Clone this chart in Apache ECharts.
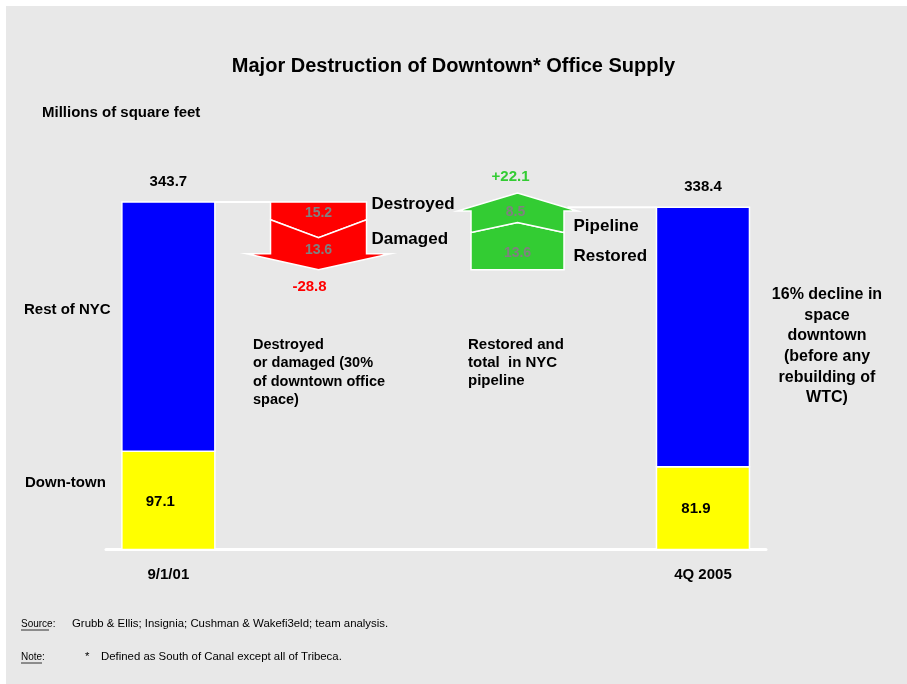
<!DOCTYPE html>
<html>
<head>
<meta charset="utf-8">
<script src="https://cdn.jsdelivr.net/npm/echarts@6/dist/echarts.min.js"></script>
<style>
html, body { margin: 0; padding: 0; background: #fff; }
#main { width: 907px; height: 684px; }
</style>
</head>
<body>
<div id="main"></div>
<script>
var periods = ['9/1/01', '4Q 2005'];
var totals = [343.7, 338.4];
var downtown = [97.1, 81.9];
var lossNames = ['Destroyed', 'Damaged'];
var losses = [15.2, 13.6];
var lossTotal = '-28.8';
var gainNames = ['Restored', 'Pipeline'];
var gains = [13.6, 8.5];
var gainTotal = '+22.1';

// layout: slot centres on the hidden x axis (0..100)
var slot = { before: 9.45, loss: 32.2, gain: 62.35, after: 90.45 };
var periodX = [slot.before, slot.after];
var barW = 93;
var stretch = { loss: 2.33, gain: 3.44 };   // arrows are drawn taller than the bar scale
var font = '"Liberation Sans", Arial, sans-serif';

var lossSum = losses[0] + losses[1];
var lossEnd = totals[0] - lossSum * stretch.loss;

var chart = echarts.init(document.getElementById('main'));

function label(t, x, y, color, size, align) {
    return { type: 'text', z2: 20, style: { text: t, x: x, y: y, fill: color, font: 'bold ' + size + 'px ' + font, align: align || 'center', verticalAlign: 'middle' } };
}

// stacked bar segment: value(0)=x, value(1)=from, value(2)=to
function barRenderer(color, labelFn) {
    return function (params, api) {
        var p0 = api.coord([api.value(0), api.value(1)]);
        var p1 = api.coord([api.value(0), api.value(2)]);
        var children = [{
            type: 'rect',
            shape: { x: p0[0] - barW / 2, y: p1[1], width: barW, height: p0[1] - p1[1] },
            style: { fill: color, stroke: '#fff', lineWidth: 1.5 }
        }];
        var l = labelFn(params.dataIndex, p0, p1);
        if (l) children.push(l);
        return { type: 'group', children: children };
    };
}

function renderLoss(params, api) {
    var top = api.coord([api.value(0), api.value(1)]);
    var unit = api.size([0, 1])[1];
    var cx = top[0], y0 = top[1];
    var s1 = api.value(2) * unit * stretch.loss;
    var s2 = api.value(3) * unit * stretch.loss;
    var yt = y0 + s1 + s2;
    var bw = 48, hw = 72, hl = 16, dip = 18;
    var yb = yt - hl;
    var barEdge = api.coord([slot.before, 0])[0] + barW / 2;
    var st = { fill: '#ff0000', stroke: '#fff', lineWidth: 1.5 };
    return {
        type: 'group',
        children: [
            { type: 'line', shape: { x1: barEdge, y1: y0, x2: cx - bw, y2: y0 }, style: { stroke: '#fff', lineWidth: 2 } },
            { type: 'polygon', shape: { points: [[cx - bw, y0], [cx + bw, y0], [cx + bw, y0 + s1 - dip], [cx, y0 + s1], [cx - bw, y0 + s1 - dip]] }, style: st },
            { type: 'polygon', shape: { points: [[cx - bw, y0 + s1 - dip], [cx, y0 + s1], [cx + bw, y0 + s1 - dip], [cx + bw, yb], [cx + hw, yb], [cx, yt], [cx - hw, yb], [cx - bw, yb]] }, style: st },
            label(String(api.value(2)), cx, y0 + 11, '#808080', 14),
            label(String(api.value(3)), cx, y0 + s1 + 12, '#808080', 14),
            label(lossNames[0], cx + 53, y0 + 2, '#000', 17, 'left'),
            label(lossNames[1], cx + 53, y0 + s1 + 2, '#000', 17, 'left'),
            label(lossTotal, cx - 9, yt + 17, '#ff0000', 15)
        ]
    };
}

function renderGain(params, api) {
    var base = api.coord([api.value(0), api.value(1)]);
    var unit = api.size([0, 1])[1];
    var cx = base[0], y0 = base[1];
    var s1 = api.value(2) * unit * stretch.gain;
    var s2 = api.value(3) * unit * stretch.gain;
    var yt = y0 - s1 - s2;
    var bw = 46.5, hw = 60, hl = 18, rise = 10;
    var yb = yt + hl;
    var barEdge = api.coord([slot.after, 0])[0] - barW / 2;
    var yEnd = api.coord([slot.after, totals[1]])[1];
    var st = { fill: '#33cc33', stroke: '#fff', lineWidth: 1.5 };
    return {
        type: 'group',
        children: [
            { type: 'line', shape: { x1: cx + 50, y1: yEnd, x2: barEdge, y2: yEnd }, style: { stroke: '#fff', lineWidth: 2 } },
            { type: 'polygon', shape: { points: [[cx - bw, y0], [cx + bw, y0], [cx + bw, y0 - s1 + rise], [cx, y0 - s1], [cx - bw, y0 - s1 + rise]] }, style: st },
            { type: 'polygon', shape: { points: [[cx - bw, y0 - s1 + rise], [cx, y0 - s1], [cx + bw, y0 - s1 + rise], [cx + bw, yb], [cx + hw, yb], [cx, yt], [cx - hw, yb], [cx - bw, yb]] }, style: st },
            label(String(api.value(2)), cx, y0 - 17, '#808080', 14),
            label(String(api.value(3)), cx - 2, yb + 1, '#808080', 14),
            label(gainNames[0], cx + 56, y0 - 13, '#000', 17, 'left'),
            label(gainNames[1], cx + 56, y0 - s1 + 4, '#000', 17, 'left'),
            label(gainTotal, cx - 7, yt - 16, '#33cc33', 15)
        ]
    };
}

function text(t, x, y, size, opts) {
    opts = opts || {};
    return {
        type: 'text', x: x, y: y, z: 10,
        style: {
            text: t, fill: opts.color || '#000',
            font: (opts.normal ? '' : 'bold ') + size + 'px ' + font,
            align: opts.align || 'left', verticalAlign: opts.va || 'middle',
            lineHeight: opts.lh
        }
    };
}

var option = {
    backgroundColor: '#fff',
    animation: false,
    title: {
        text: 'Major Destruction of Downtown* Office Supply',
        left: 'center', top: 56, padding: 0,
        textStyle: { fontFamily: font, fontWeight: 'bold', fontSize: 20, color: '#000' }
    },
    grid: { left: 106, right: 141, top: 145, bottom: 134.5 },
    xAxis: {
        type: 'value', min: 0, max: 100,
        axisLine: { show: true, onZero: false, lineStyle: { color: '#fff', width: 3 } },
        axisTick: { show: false },
        splitLine: { show: false },
        axisLabel: {
            customValues: periodX,
            formatter: function (v) { return periods[periodX.indexOf(v)]; },
            margin: 18, color: '#000', fontWeight: 'bold', fontSize: 15, fontFamily: font
        }
    },
    yAxis: { type: 'value', min: 0, max: 400, show: false },
    series: [
        {
            name: 'Down-town', type: 'custom', encode: { x: 0, y: [1, 2] }, z: 3,
            renderItem: barRenderer('#ffff00', function (i, p0, p1) {
                return label(downtown[i].toFixed(1), p0[0] - (i === 0 ? 8 : 7), (p0[1] + p1[1]) / 2 + 1, '#000', 15);
            }),
            data: downtown.map(function (v, i) { return [periodX[i], 0, v]; })
        },
        {
            name: 'Rest of NYC', type: 'custom', encode: { x: 0, y: [1, 2] }, z: 3,
            renderItem: barRenderer('#0000ff', function (i, p0, p1) {
                return label(totals[i].toFixed(1), p1[0], p1[1] - 20.5, '#000', 15);
            }),
            data: totals.map(function (t, i) { return [periodX[i], downtown[i], t]; })
        },
        {
            name: 'Loss', type: 'custom', renderItem: renderLoss, encode: { x: 0, y: 1 }, z: 2,
            data: [[slot.loss, totals[0], losses[0], losses[1]]]
        },
        {
            name: 'Gain', type: 'custom', renderItem: renderGain, encode: { x: 0, y: 1 }, z: 2,
            data: [[slot.gain, lossEnd, gains[0], gains[1]]]
        }
    ],
    graphic: [
        { type: 'rect', shape: { x: 6, y: 6, width: 901, height: 678 }, style: { fill: '#e8e8e8' }, z: -10, silent: true },
        text('Millions of square feet', 42, 113, 15),
        text('Rest of NYC', 24, 310, 15),
        text('Down-town', 25, 483, 15),
        text('Destroyed\nor damaged (30%\nof downtown office\nspace)', 253, 336, 14.5, { va: 'top', lh: 18.3 }),
        text('Restored and\ntotal  in NYC\npipeline', 468, 336, 15, { va: 'top', lh: 18 }),
        text('16% decline in\nspace\ndowntown\n(before any\nrebuilding of\nWTC)', 827, 284.5, 16, { align: 'center', va: 'top', lh: 20.6 }),
        text('Source:', 21, 624, 10, { normal: true }),
        { type: 'line', shape: { x1: 21, y1: 630, x2: 49, y2: 630 }, style: { stroke: '#000', lineWidth: 0.8 } },
        text('Grubb & Ellis; Insignia; Cushman & Wakefi3eld; team analysis.', 72, 624, 11.4, { normal: true }),
        text('Note:', 21, 657, 10, { normal: true }),
        { type: 'line', shape: { x1: 21, y1: 663, x2: 42, y2: 663 }, style: { stroke: '#000', lineWidth: 0.8 } },
        text('*', 85, 657, 11.4, { normal: true }),
        text('Defined as South of Canal except all of Tribeca.', 101, 657, 11.4, { normal: true })
    ]
};

chart.setOption(option);
</script>
</body>
</html>
